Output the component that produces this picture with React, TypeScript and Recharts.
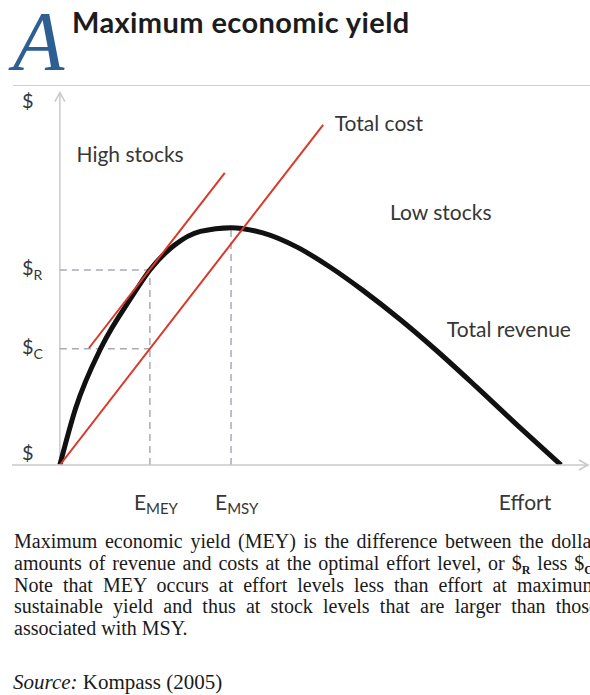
import React from "react";
import {
  ComposedChart,
  Line,
  XAxis,
  YAxis,
  ReferenceLine,
  ReferenceDot,
} from "recharts";

// effort (x) and dollar (y) in chart units
const revenueEffort = [0, 3, 8, 13.8, 17.3, 22, 27, 32.9, 39, 45.6, 51.9, 58.3, 65.4, 72, 80, 88, 96.3];
const revenueValue = [0, 15, 31.5, 44.8, 52, 58.6, 62.3, 63.3, 61.9, 58.1, 52.8, 46.5, 38.8, 31, 20.9, 10.5, 0];

const costEffort = [0, 50.6];
const costValue = [0, 90.7];

const tangentEffort = [5.6, 31.7];
const tangentValue = [31.2, 77.9];

const eMey = 17.3;
const eMsy = 32.9;
const dollarsR = 52;
const dollarsC = 31;
const peakRevenue = 63.3;

const xTicks = [eMey, eMsy, 89.4];
const xTickLabels = [["E", "MEY"], ["E", "MSY"], ["Effort", ""]];
const yTicks = [0, dollarsC, dollarsR, 96.5];
const yTickLabels = [["$", ""], ["$", "C"], ["$", "R"], ["$", ""]];
const yLabelX = -7.3;

const notes = [
  { text: "High stocks", x: 13.5, y: 82.7 },
  { text: "Total cost", x: 61.3, y: 90.9 },
  { text: "Low stocks", x: 73.2, y: 67.2 },
  { text: "Total revenue", x: 86.3, y: 36 },
];

const revenue = revenueEffort.map((e, i) => ({ e, v: revenueValue[i] }));
const cost = costEffort.map((e, i) => ({ e, v: costValue[i] }));
const tangent = tangentEffort.map((e, i) => ({ e, v: tangentValue[i] }));

const RED = "#d8392a";
const GREY = "#c9c9cc";
const DASH = "#a8aab6";
const INK = "#363636";
const FONT = "Lato, sans-serif";
const SERIF = "'Liberation Serif', serif";

function XTick({ x, y, payload }: any) {
  const i = xTicks.indexOf(payload.value);
  const [main, sub] = xTickLabels[i] ?? ["", ""];
  if (!sub) {
    return (
      <text x={x} y={y + 37} textAnchor="middle" fontFamily={FONT} fontSize={21} fill={INK}>
        {main}
      </text>
    );
  }
  return (
    <text x={x - 16} y={y + 37} fontFamily={FONT} fontSize={21} fill={INK}>
      {main}
      <tspan fontSize={15} dy={4}>{sub}</tspan>
    </text>
  );
}

function YLabel({ viewBox, main, sub, shift }: any) {
  const cx = viewBox.x + (viewBox.width ?? 0) / 2;
  const cy = viewBox.y + (viewBox.height ?? 0) / 2;
  return (
    <text x={cx} y={cy + shift + 7} textAnchor="start" fontFamily={FONT} fontSize={20} fill={INK}>
      {main}
      {sub && <tspan fontSize={14} dy={5}>{sub}</tspan>}
    </text>
  );
}

function Note({ viewBox, value }: any) {
  const cx = viewBox.x + (viewBox.width ?? 0) / 2;
  const cy = viewBox.y + (viewBox.height ?? 0) / 2;
  return (
    <text x={cx} y={cy + 7} textAnchor="middle" fontFamily={FONT} fontSize={21} fill={INK}>
      {value}
    </text>
  );
}

const upArrow = ({ cx, cy }: any) => (
  <path d={`M${cx - 5},${cy + 9} L${cx},${cy} L${cx + 5},${cy + 9}`} stroke={GREY} strokeWidth={1.5} fill="none" />
);
const rightArrow = ({ cx, cy }: any) => (
  <path d={`M${cx - 9},${cy - 5} L${cx},${cy} L${cx - 9},${cy + 5}`} stroke={GREY} strokeWidth={1.5} fill="none" />
);

const captionLines = [
  "Maximum economic yield (MEY) is the difference between the dollar",
  null,
  "Note that MEY occurs at effort levels less than effort at maximum",
  "sustainable yield and thus at stock levels that are larger than those",
  "associated with MSY.",
];

export default function App() {
  const lineStyle: React.CSSProperties = {
    whiteSpace: "nowrap",
    textAlign: "justify",
    textAlignLast: "justify",
    wordSpacing: -4,
    height: 21.8,
  };
  const subStyle: React.CSSProperties = { fontSize: 12, fontWeight: 700, verticalAlign: "-4px", lineHeight: 0 };
  return (
    <div
      style={{
        position: "absolute",
        left: 0,
        top: 0,
        width: 590,
        height: 695,
        overflow: "hidden",
        background: "#fff",
      }}
    >
      <div
        style={{
          position: "absolute",
          left: 13,
          top: 0,
          fontFamily: SERIF,
          fontStyle: "italic",
          fontSize: 84,
          color: "#2d5f93",
          lineHeight: 1,
        }}
      >
        A
      </div>
      <div
        style={{
          position: "absolute",
          left: 72,
          top: 4,
          fontFamily: FONT,
          fontWeight: 700,
          fontSize: 29,
          letterSpacing: 0.4,
          color: "#1c1c1c",
        }}
      >
        Maximum economic yield
      </div>
      <div style={{ position: "absolute", left: 13, top: 85, width: 577, height: 1, background: "#cfcfd2" }} />

      <div style={{ position: "absolute", left: 0, top: 0 }}>
        <ComposedChart width={590} height={525} margin={{ top: 90, right: 2, bottom: 10, left: 12 }}>
          <XAxis
            dataKey="e"
            type="number"
            domain={[-9.2, 101.5]}
            allowDataOverflow
            ticks={xTicks}
            tick={<XTick />}
            tickLine={false}
            axisLine={{ stroke: GREY, strokeWidth: 1.5 }}
            height={50}
            interval={0}
          />
          <YAxis type="number" domain={[0, 100]} allowDataOverflow hide />
          <ReferenceLine segment={[{ x: 0, y: 0 }, { x: 0, y: 99.3 }]} stroke={GREY} strokeWidth={1.5} />
          <ReferenceDot x={0} y={99.3} shape={upArrow} />
          <ReferenceDot x={101.5} y={0} shape={rightArrow} />

          <ReferenceLine segment={[{ x: 0, y: dollarsR }, { x: eMey, y: dollarsR }]} stroke={DASH} strokeWidth={1.5} strokeDasharray="7 5" />
          <ReferenceLine segment={[{ x: 0, y: dollarsC }, { x: eMey, y: dollarsC }]} stroke={DASH} strokeWidth={1.5} strokeDasharray="7 5" />
          <ReferenceLine segment={[{ x: eMey, y: 0 }, { x: eMey, y: dollarsR }]} stroke={DASH} strokeWidth={1.5} strokeDasharray="7 5" />
          <ReferenceLine segment={[{ x: eMsy, y: 0 }, { x: eMsy, y: peakRevenue }]} stroke={DASH} strokeWidth={1.5} strokeDasharray="7 5" />

          <Line data={revenue} dataKey="v" type="monotone" stroke="#111" strokeWidth={5} dot={false} isAnimationActive={false} />
          <Line data={cost} dataKey="v" type="linear" stroke={RED} strokeWidth={2} dot={false} isAnimationActive={false} />
          <Line data={tangent} dataKey="v" type="linear" stroke={RED} strokeWidth={2} dot={false} isAnimationActive={false} />

          {yTicks.map((t, i) => (
            <ReferenceDot
              key={`y${i}`}
              x={yLabelX}
              y={t}
              r={0}
              fill="none"
              stroke="none"
              ifOverflow="visible"
              label={<YLabel main={yTickLabels[i][0]} sub={yTickLabels[i][1]} shift={t === 0 ? -12 : -2} />}
            />
          ))}

          {notes.map((n) => (
            <ReferenceDot key={n.text} x={n.x} y={n.y} r={0} fill="none" stroke="none" label={<Note value={n.text} />} />
          ))}
        </ComposedChart>
      </div>

      <div
        style={{
          position: "absolute",
          left: 14,
          top: 531,
          width: 584,
          fontFamily: SERIF,
          fontSize: 20,
          lineHeight: "21.8px",
          color: "#1a1a1a",
        }}
      >
        <div style={lineStyle}>{captionLines[0]}</div>
        <div style={lineStyle}>
          amounts of revenue and costs at the optimal effort level, or $<span style={subStyle}>R</span> less $
          <span style={subStyle}>C</span>.
        </div>
        <div style={lineStyle}>{captionLines[2]}</div>
        <div style={lineStyle}>{captionLines[3]}</div>
        <div style={{ whiteSpace: "nowrap", height: 21.8 }}>{captionLines[4]}</div>
      </div>
      <div
        style={{
          position: "absolute",
          left: 13,
          top: 672,
          fontFamily: SERIF,
          fontSize: 21,
          lineHeight: "21.8px",
          color: "#1a1a1a",
          whiteSpace: "nowrap",
        }}
      >
        <i>Source:</i> Kompass (2005)
      </div>
    </div>
  );
}
